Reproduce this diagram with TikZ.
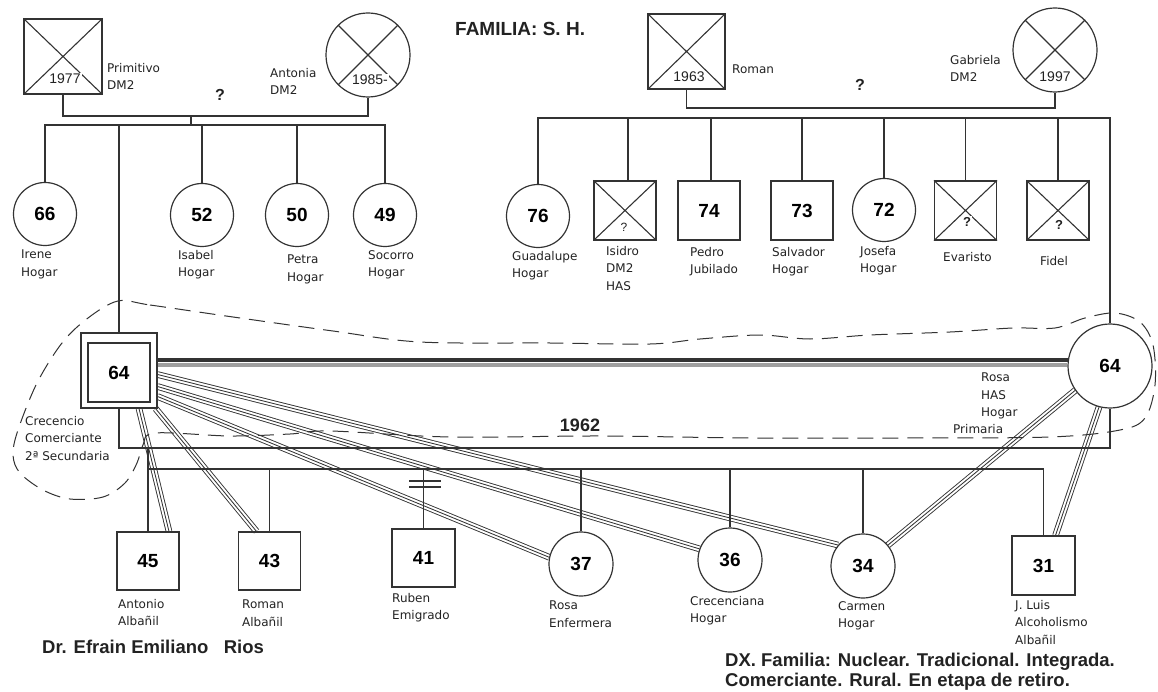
\documentclass[tikz,border=0pt]{standalone}
\usepackage{fontspec}
\setmainfont{Liberation Sans}
\newfontfamily\labfont{DejaVu Sans}
\pgfdeclarelayer{bg}
\pgfsetlayers{bg,main}
\definecolor{lc}{HTML}{333333}
\definecolor{tc}{HTML}{222222}
\begin{document}
\begin{tikzpicture}[x=1pt,y=-1pt,
  ln/.style={draw=lc, line width=1.1pt},
  sq/.style={draw=lc, line width=1.2pt, rectangle, inner sep=0pt, minimum width=62, minimum height=59},
  ci/.style={draw=lc, line width=1.2pt, circle, inner sep=0pt, minimum size=63},
  num/.style={font=\fontsize{19}{19}\selectfont\bfseries, text=black},
  yr/.style={font=\fontsize{14}{14}\selectfont, inner sep=0pt, text=tc},
  qm/.style={font=\fontsize{13}{13}\selectfont\bfseries, inner sep=0pt, text=tc},
  lab/.style={font=\labfont\fontsize{12}{17.5}\selectfont, align=left, anchor=north west, inner sep=0pt, text=tc},
  big/.style={font=\fontsize{18.5}{20}\selectfont\bfseries, align=left, anchor=north west, inner sep=0pt, text=tc},
  tri/.style={draw=lc, line width=6.6pt, postaction={draw=white, line width=4.8pt}, postaction={draw=lc, line width=0.85pt}},
  bound/.style={draw=lc, line width=1pt, dash pattern=on 16pt off 9pt}
]
\useasboundingbox (0,0) rectangle (1158,692);

% ---------- title ----------
\node[big, font=\fontsize{19}{20}\selectfont\bfseries] (title) at (455,22) {FAMILIA: S. H.};

% ---------- left grandparents ----------
\node[sq, minimum width=78, minimum height=75] (prim) at (63,56.5) {};
\draw[ln] (prim.north west) -- (prim.south east) (prim.north east) -- (prim.south west);
\node[yr, fill=white, inner sep=1pt] (primy) at (65,79) {1977};
\node[lab] (priml) at (107,63) {Primitivo\\DM2};
\node[ci, minimum size=84] (anto) at (368,55) {};
\draw[ln] (anto.45) -- (anto.225) (anto.135) -- (anto.315);
\node[yr, fill=white, inner sep=1pt] (antoy) at (370,80) {1985-};
\node[lab] (antol) at (270,68) {Antonia\\DM2};
\node[qm, font=\fontsize{16}{16}\selectfont\bfseries] (q1) at (220,95) {?};

% ---------- right grandparents ----------
\node[sq, minimum width=77, minimum height=75] (rom) at (686.5,51.5) {};
\draw[ln] (rom.north west) -- (rom.south east) (rom.north east) -- (rom.south west);
\node[yr, fill=white, inner sep=1pt] (romy) at (689,77) {1963};
\node[lab] (roml) at (732,65) {Roman};
\node[ci, minimum size=84] (gab) at (1055,50) {};
\draw[ln] (gab.45) -- (gab.225) (gab.135) -- (gab.315);
\node[yr, fill=white, inner sep=1pt] (gaby) at (1055,77) {1997};
\node[lab] (gabl) at (950,55) {Gabriela\\DM2};
\node[qm, font=\fontsize{16}{16}\selectfont\bfseries] (q2) at (860,85) {?};

% ---------- left siblings ----------
\node[ci, num] (ire) at (45,214) {66};
\node[lab] (irel) at (21,250) {Irene\\Hogar};
\node[ci, num] (isa) at (202,215) {52};
\node[lab] (isal) at (178,250) {Isabel\\Hogar};
\node[ci, num] (pet) at (297,215) {50};
\node[lab] (petl) at (287,255) {Petra\\Hogar};
\node[ci, num] (soc) at (385,215) {49};
\node[lab] (socl) at (368,250) {Socorro\\Hogar};

% ---------- right siblings ----------
\node[ci, num] (gua) at (538,216) {76};
\node[lab] (gual) at (512,251) {Guadalupe\\Hogar};
\node[sq] (isi) at (625,210.5) {};
\draw[ln] (isi.north west) -- (isi.south east) (isi.north east) -- (isi.south west);
\node[qm, fill=white, inner sep=1pt, font=\fontsize{12}{12}\selectfont] (isiq) at (624,227) {?};
\node[lab] (isil) at (606,246) {Isidro\\DM2\\HAS};
\node[sq, num] (ped) at (709,210.5) {74};
\node[lab] (pedl) at (690,247) {Pedro\\Jubilado};
\node[sq, num] (sal) at (802,210.5) {73};
\node[lab] (sall) at (772,247) {Salvador\\Hogar};
\node[ci, num] (jos) at (884,210) {72};
\node[lab] (josl) at (860,246) {Josefa\\Hogar};
\node[sq] (eva) at (965.5,210.5) {};
\draw[ln] (eva.north west) -- (eva.south east) (eva.north east) -- (eva.south west);
\node[qm, fill=white, inner sep=1pt] (evaq) at (967,222) {?};
\node[lab] (eval) at (943,252) {Evaristo};
\node[sq] (fid) at (1058,210.5) {};
\draw[ln] (fid.north west) -- (fid.south east) (fid.north east) -- (fid.south west);
\node[qm, fill=white, inner sep=1pt] (fidq) at (1059,225) {?};
\node[lab] (fidl) at (1040,256) {Fidel};

% ---------- couple ----------
\node[sq, minimum width=76, minimum height=75] (cre) at (119,370.5) {};
\node[sq, num] (creI) at (119,372.5) {64};
\node[lab] (crel) at (25,416) {Crecencio\\Comerciante\\2ª Secundaria};
\node[ci, num, minimum size=84] (rosa) at (1110,366) {64};
\node[lab] (rosal) at (981,373) {Rosa\\HAS\\Hogar};
\node[lab] (rosap) at (953,424) {Primaria};
\node[qm, font=\fontsize{18}{18}\selectfont\bfseries] (y62) at (580,425) {1962};

% ---------- children ----------
\node[sq, num, minimum height=58] (ant) at (148,561) {45};
\node[lab] (antl) at (118,599) {Antonio\\Albañil};
\node[sq, num, minimum height=58] (rmn) at (269.5,561) {43};
\node[lab] (rmnl) at (242,600) {Roman\\Albañil};
\node[sq, num, minimum width=63, minimum height=58] (rub) at (423.5,558) {41};
\node[lab] (rubl) at (392,593) {Ruben\\Emigrado};
\node[ci, num, minimum size=64] (r37) at (581,564) {37};
\node[lab] (r37l) at (549,601) {Rosa\\Enfermera};
\node[ci, num, minimum size=64] (c36) at (730,560) {36};
\node[lab] (c36l) at (690,596) {Crecenciana\\Hogar};
\node[ci, num, minimum size=64] (carm) at (863,566) {34};
\node[lab] (carml) at (838,601) {Carmen\\Hogar};
\node[sq, num, minimum width=63] (jl) at (1043.5,565.5) {31};
\node[lab] (jll) at (1015,600) {J. Luis\\Alcoholismo\\Albañil};

% ---------- footer ----------
\node[big] (dr) at (42,640) {Dr. Efrain Emiliano\ \ \ Rios};
\node[big] (dx) at (725,653) {DX. Familia: Nuclear. Tradicional. Integrada.\\Comerciante. Rural. En etapa de retiro.};

% ---------- relationship bundles (background) ----------
\begin{pgfonlayer}{bg}
\draw[tri] ([xshift=20]cre.south) -- ([xshift=21]ant.north);
\draw[tri] ([xshift=-2]cre.south east) -- ([xshift=-13]rmn.north);
\draw[tri] ([yshift=-4]cre.east) -- (carm.140);
\draw[tri] ([yshift=-16]cre.east) -- (c36.160);
\draw[tri] ([yshift=-26]cre.east) -- (r37.168);
\draw[tri] (rosa.215) -- (carm.40);
\draw[tri] (rosa.255) -- ([xshift=12]jl.north);
\end{pgfonlayer}

% ---------- union band ----------
\draw[draw=gray!75, line width=4pt] (cre.east |- rosa.179) -- (rosa.179);
\draw[draw=lc, line width=3.5pt] (cre.east |- rosa.172) -- (rosa.172);

% ---------- genealogical lines ----------
\coordinate (sibL) at (0,125);
\coordinate (sibR) at (0,118);
\coordinate (kidL) at (0,469);
\coordinate (pm1) at (191,116);
\draw[ln] (prim.south) |- (anto.south |- pm1) -- (anto.south);
\draw[ln] (pm1) -- (pm1 |- sibL);
\draw[ln] (ire.north) |- (soc.north |- sibL) -- (soc.north);
\draw[ln] (isa.north) -- (isa.north |- sibL);
\draw[ln] (pet.north) -- (pet.north |- sibL);
\draw[ln] (cre.north) -- (cre.north |- sibL);

\draw[ln] (rom.south) |- (gab.south |- 0,108) -- (gab.south);
\draw[ln] (gua.north) |- (rosa.north |- sibR) -- (rosa.north);
\draw[ln] ([xshift=3]isi.north) -- ([xshift=3]isi.north |- sibR);
\draw[ln] ([xshift=2]ped.north) -- ([xshift=2]ped.north |- sibR);
\draw[ln] (sal.north) -- (sal.north |- sibR);
\draw[ln] (jos.north) -- (jos.north |- sibR);
\draw[ln] (eva.north) -- (eva.north |- sibR);
\draw[ln] (fid.north) -- (fid.north |- sibR);

\draw[ln] (cre.south) |- (rosa.south |- 0,448) -- (rosa.south);
\draw[ln] (ant.north) -- (ant.north |- 0,448);
\draw[ln] (ant.north |- kidL) -- (jl.north |- kidL) -- (jl.north);
\draw[ln] (rmn.north) -- (rmn.north |- kidL);
\draw[ln] (rub.north) -- (rub.north |- kidL);
\draw[ln] (r37.north) -- (r37.north |- kidL);
\draw[ln] (c36.north) -- (c36.north |- kidL);
\draw[ln] (carm.north) -- (carm.north |- kidL);
\draw[ln] (409,481) -- (441,481) (409,487) -- (441,487);

% ---------- nuclear family boundary ----------
\draw[bound] plot[smooth cycle, tension=0.55] coordinates {
 (118,301) (150,305) (233,317) (333,331) (420,342) (550,343) (650,344)
 (700,339) (760,335) (810,339) (870,335) (950,332) (1013,328) (1055,328)
 (1085,318) (1115,313) (1140,322) (1153,345) (1155,385) (1145,418)
 (1120,430) (1050,437) (900,438) (750,438) (600,436) (450,437) (330,431)
 (290,434) (230,436) (155,433) (143,445) (137,463) (125,483) (103,497)
 (70,499) (43,490) (20,473) (13,455) (18,430) (37,383) (62,343) (88,318)};
\end{tikzpicture}
\end{document}
